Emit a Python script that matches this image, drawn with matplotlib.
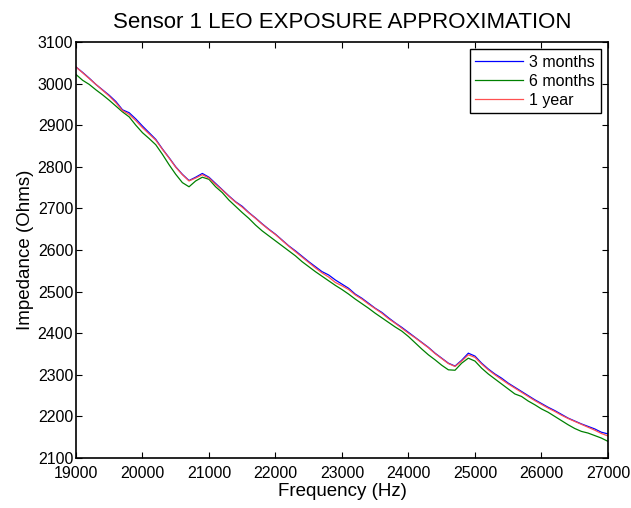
import numpy as np
import matplotlib
matplotlib.use("Agg")
import matplotlib.pyplot as plt

plt.rcParams['font.family'] = ['Liberation Sans', 'DejaVu Sans']

# Frequency grid (Hz), 100 Hz steps
freq = list(range(19000, 27001, 100))

# Impedance (Ohms)
three_months = [
    3040, 3027, 3013, 2998, 2985, 2972, 2957, 2937, 2930, 2915,
    2898, 2882, 2866, 2843, 2822, 2800, 2782, 2767, 2775, 2784,
    2775, 2760, 2745, 2730, 2716, 2705, 2690, 2677, 2663, 2650,
    2638, 2624, 2610, 2598, 2585, 2572, 2560, 2548, 2540, 2528,
    2518, 2508, 2494, 2484, 2472, 2460, 2450, 2437, 2425, 2414,
    2402, 2390, 2378, 2366, 2352, 2340, 2328, 2321, 2335, 2352,
    2345, 2328, 2314, 2302, 2292, 2280, 2270, 2260, 2250, 2240,
    2231, 2222, 2214, 2205, 2196, 2189, 2182, 2176, 2170, 2162,
    2158,
]
six_months = [
    3022, 3008, 2998, 2985, 2973, 2960, 2946, 2932, 2920, 2900,
    2882, 2868, 2853, 2830, 2805, 2782, 2762, 2752, 2766, 2775,
    2770, 2752, 2738, 2720, 2705, 2690, 2676, 2660, 2646, 2634,
    2622, 2610, 2598, 2586, 2572, 2560, 2548, 2537, 2526, 2515,
    2505, 2494, 2482, 2471, 2460, 2448, 2437, 2426, 2415, 2405,
    2392, 2377, 2362, 2348, 2336, 2323, 2312, 2311, 2328, 2340,
    2333, 2316, 2302, 2290, 2278, 2266, 2254, 2248, 2237, 2228,
    2218, 2210, 2200, 2190, 2180, 2171, 2164, 2160, 2154, 2148,
    2140,
]
one_year = [
    3040, 3026, 3012, 2998, 2984, 2970, 2954, 2935, 2926, 2911,
    2894, 2879, 2864, 2842, 2821, 2799, 2781, 2766, 2773, 2781,
    2773, 2758, 2744, 2729, 2715, 2703, 2689, 2676, 2662, 2649,
    2637, 2623, 2609, 2596, 2583, 2570, 2557, 2545, 2535, 2522,
    2514, 2505, 2492, 2482, 2470, 2459, 2448, 2435, 2424, 2412,
    2400, 2389, 2377, 2365, 2351, 2339, 2327, 2320, 2333, 2348,
    2342, 2326, 2312, 2300, 2289, 2278, 2268, 2258, 2248, 2238,
    2229, 2220, 2212, 2203, 2195, 2188, 2181, 2174, 2167, 2159,
    2153,
]

fig = plt.figure(figsize=(6.31, 5.08), dpi=100)
ax = fig.add_axes([0.1204, 0.0984, 0.8431, 0.8189])

ax.plot(freq, three_months, color=(0, 0, 1), lw=0.9, label='3 months')
ax.plot(freq, six_months, color=(0, 0.5, 0), lw=0.9, label='6 months')
ax.plot(freq, one_year, color='#ff5050', lw=0.9, label='1 year')

ax.set_xlim(19000, 27000)
ax.set_ylim(2100, 3100)
ax.set_xticks(np.arange(19000, 27001, 1000))
ax.set_yticks(np.arange(2100, 3101, 100))
ax.tick_params(direction='in', top=True, right=True, length=4, width=0.8,
               labelsize=11.5)
ax.tick_params(axis='x', pad=6)
ax.tick_params(axis='y', pad=2)
for s in ax.spines.values():
    s.set_linewidth(1.2)

ax.set_xlabel('Frequency (Hz)', fontsize=13.5, labelpad=1)
ax.set_ylabel('Impedance (Ohms)', fontsize=13.5, labelpad=3)
ax.set_title('Sensor 1 LEO EXPOSURE APPROXIMATION', fontsize=16, pad=10)

leg = ax.legend(loc='upper right', fontsize=11.5, fancybox=False, framealpha=1,
                edgecolor='black', borderaxespad=0.45, handlelength=3.0,
                handletextpad=0.4, labelspacing=0.25, borderpad=0.35)
leg.get_frame().set_linewidth(1.0)

fig.savefig('out.png', dpi=100)
